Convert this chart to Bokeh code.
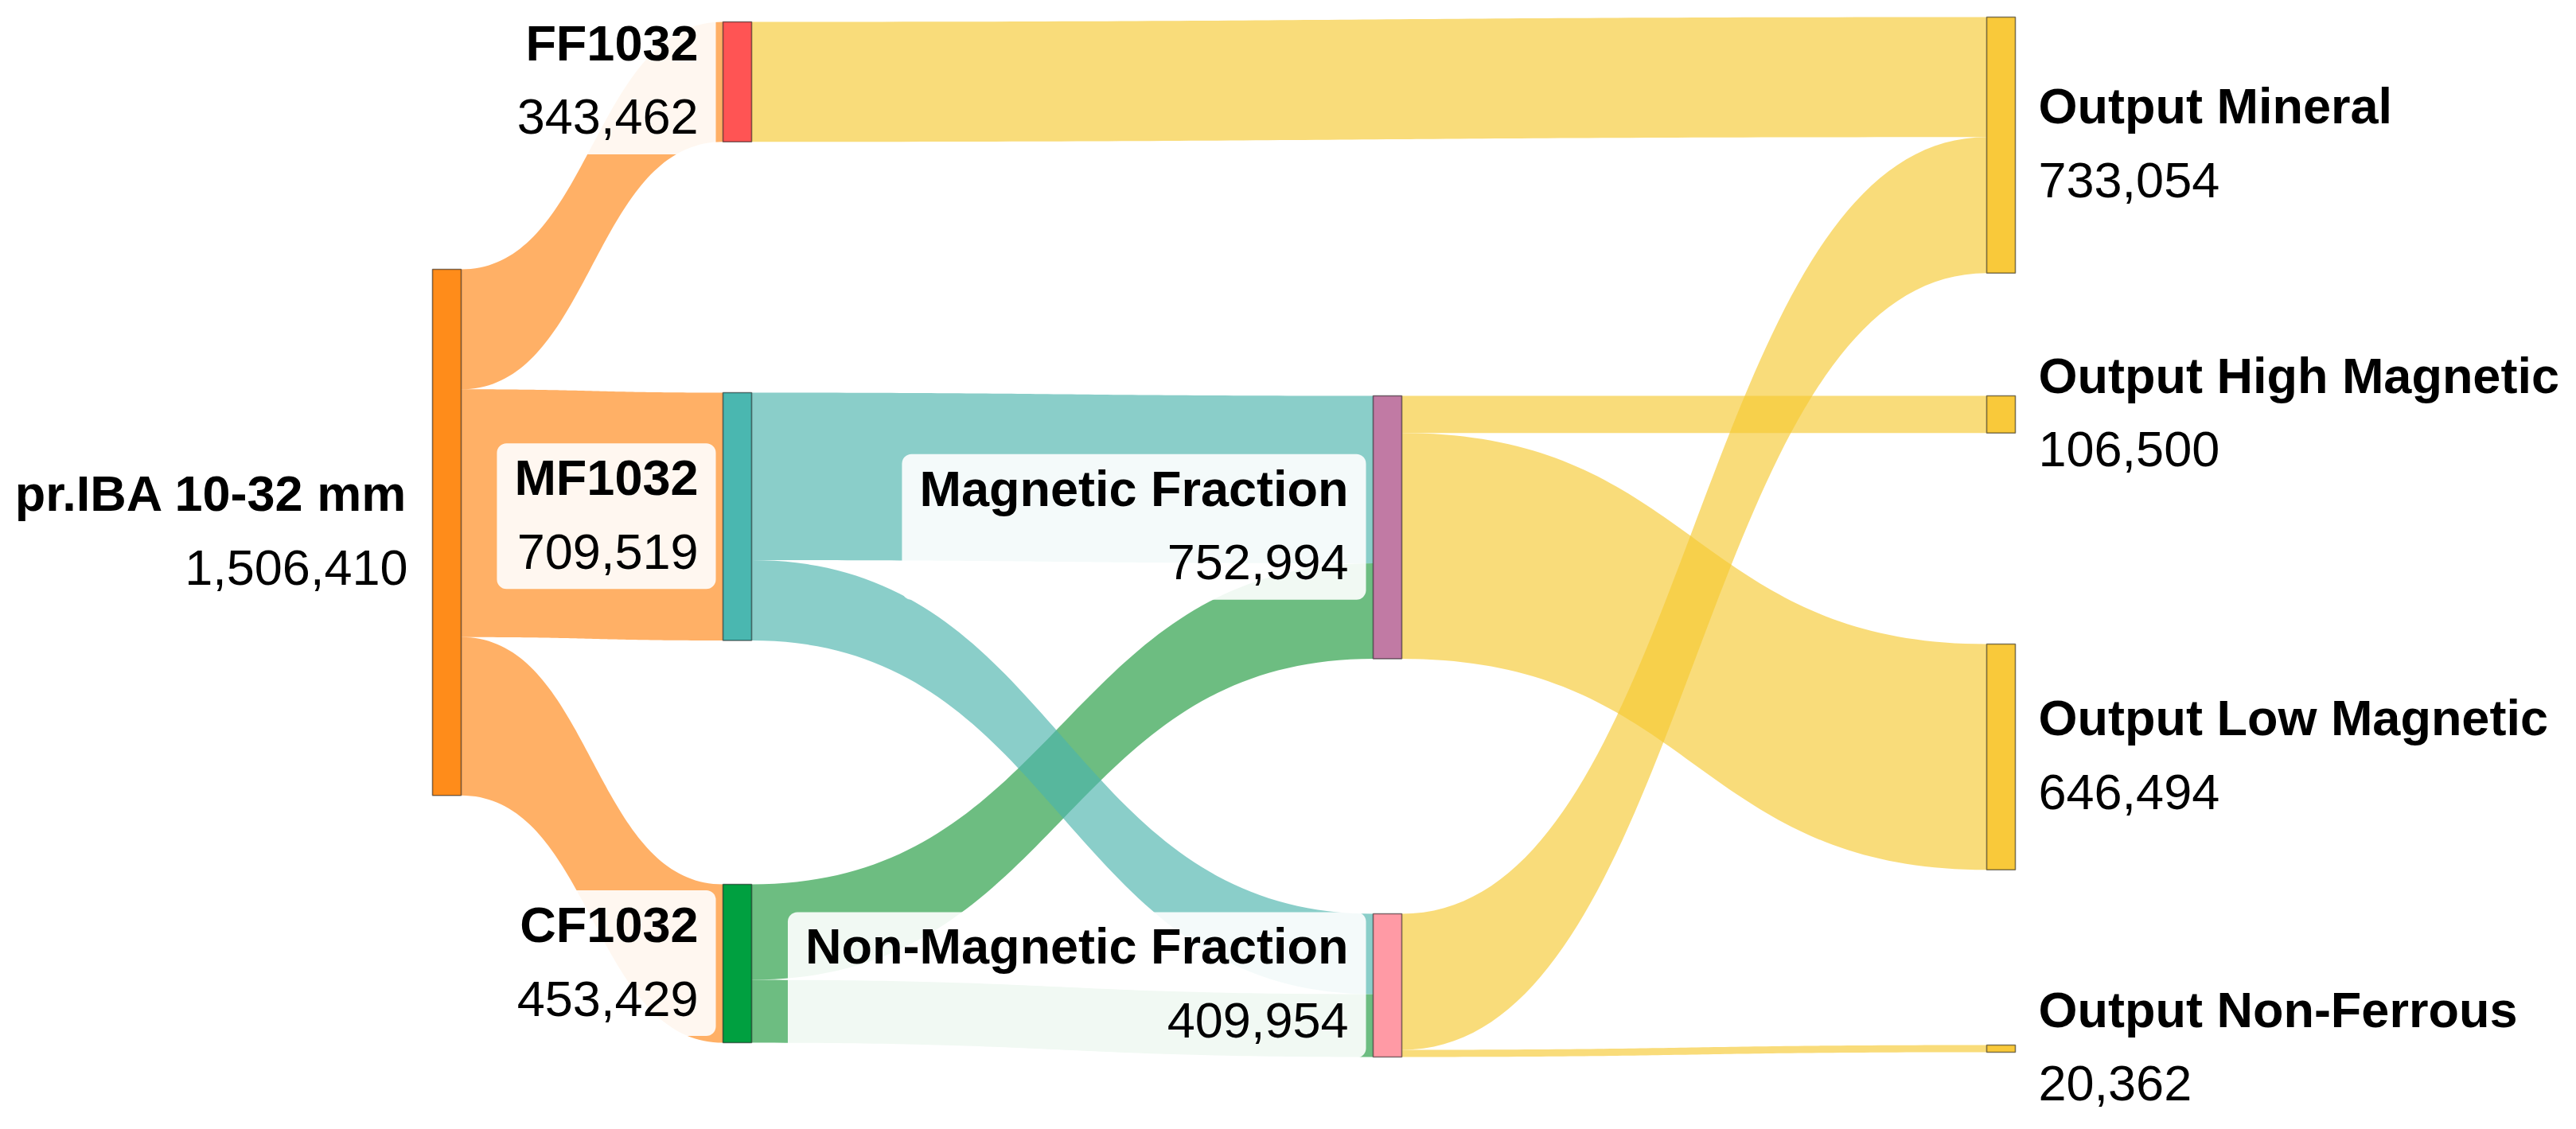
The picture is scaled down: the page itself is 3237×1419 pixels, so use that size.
import numpy as np
from bokeh.plotting import figure
from bokeh.models import Range1d, ColumnDataSource
from bokeh.embed import file_html
from bokeh.resources import INLINE
from bokeh.core.properties import value

# ---------------- data ----------------
node_names = ["pr.IBA 10-32 mm", "FF1032", "MF1032", "CF1032",
              "Magnetic Fraction", "Non-Magnetic Fraction",
              "Output Mineral", "Output High Magnetic",
              "Output Low Magnetic", "Output Non-Ferrous"]
node_values = [1506410, 343462, 709519, 453429,
               752994, 409954,
               733054, 106500, 646494, 20362]

link_sources = ["pr.IBA 10-32 mm", "pr.IBA 10-32 mm", "pr.IBA 10-32 mm",
                "CF1032", "CF1032", "MF1032", "MF1032",
                "FF1032", "Magnetic Fraction", "Magnetic Fraction",
                "Non-Magnetic Fraction", "Non-Magnetic Fraction"]
link_targets = ["FF1032", "MF1032", "CF1032",
                "Magnetic Fraction", "Non-Magnetic Fraction",
                "Magnetic Fraction", "Non-Magnetic Fraction",
                "Output Mineral", "Output High Magnetic", "Output Low Magnetic",
                "Output Mineral", "Output Non-Ferrous"]
link_values = [343462, 709519, 453429,
               273494, 179935, 479500, 230019,
               343462, 106500, 646494,
               389592, 20362]

# ---------------- layout / style ----------------
W, H = 3229, 1411
K = 0.000439                      # screen px per tonne
COL_X = [543, 908, 1725, 2496]    # left edge of each column (px)
NODE_W = 36
node_col = [0, 1, 1, 1, 2, 2, 3, 3, 3, 3]
NODE_TOP_PX = [338, 27, 493, 1111, 497, 1148, 21, 497, 809, 1313]
node_colors = ["#FF8C1A", "#FF5454", "#4AB7B0", "#00A040",
               "#C17AA4", "#FF9AA5",
               "#F9C93A", "#F9C93A", "#F9C93A", "#F9C93A"]
link_color_of_source = {"pr.IBA 10-32 mm": "#FF8614", "MF1032": "#4BB4AC",
                        "CF1032": "#1E993D", "FF1032": "#F6C932",
                        "Magnetic Fraction": "#F6C932",
                        "Non-Magnetic Fraction": "#F6C932"}
FONT = "Liberation Sans"
FS = 63
LABEL_GAP = 31
TEXT_DY = -23                     # renderer baseline correction (px)

BOLD_W = {" ": .278, "-": .333, ".": .278, ",": .278, "A": .722, "B": .722,
          "C": .722, "F": .611, "H": .722, "I": .278, "L": .611, "M": .833,
          "N": .722, "O": .778, "a": .556, "c": .556, "e": .556, "g": .611,
          "h": .611, "i": .278, "l": .278, "m": .889, "n": .611, "o": .611,
          "p": .611, "r": .389, "s": .556, "t": .333, "u": .611, "w": .778}


def text_width(s, bold=True):
    if bold:
        return sum(BOLD_W.get(c, .556) for c in s) * FS
    return sum(.278 if c == "," else .556 for c in s) * FS


idx = {n: i for i, n in enumerate(node_names)}
top_u = [t / K for t in NODE_TOP_PX]

p = figure(width=W, height=H, output_backend="svg", toolbar_location=None,
           x_range=Range1d(0, W), y_range=Range1d(H / K, 0))
p.axis.visible = False
p.grid.visible = False
p.outline_line_color = None
p.min_border = 0
p.min_border_left = p.min_border_right = p.min_border_top = p.min_border_bottom = 0
p.background_fill_color = "white"
p.border_fill_color = "white"

# ---------------- links ----------------
out_off = {n: 0.0 for n in node_names}
in_off = {n: 0.0 for n in node_names}
order = list(range(len(link_values)))
out_order = sorted(order, key=lambda i: (idx[link_sources[i]], top_u[idx[link_targets[i]]]))
in_order = sorted(order, key=lambda i: (idx[link_targets[i]], top_u[idx[link_sources[i]]]))
src_y, tgt_y = {}, {}
for i in out_order:
    s = link_sources[i]
    src_y[i] = top_u[idx[s]] + out_off[s]
    out_off[s] += link_values[i]
for i in in_order:
    t = link_targets[i]
    tgt_y[i] = top_u[idx[t]] + in_off[t]
    in_off[t] += link_values[i]

tt = np.linspace(0, 1, 80)
xs, ys, cols = [], [], []
for i in order:
    s, t = idx[link_sources[i]], idx[link_targets[i]]
    x0 = COL_X[node_col[s]] + NODE_W
    x1 = COL_X[node_col[t]]
    xm0 = x0 + (x1 - x0) * 0.5
    xm1 = x1 - (x1 - x0) * 0.5
    bx = (1 - tt) ** 3 * x0 + 3 * (1 - tt) ** 2 * tt * xm0 + 3 * (1 - tt) * tt ** 2 * xm1 + tt ** 3 * x1
    e = 3 * (1 - tt) * tt ** 2 + tt ** 3
    ytop = src_y[i] * (1 - e) + tgt_y[i] * e
    ybot = ytop + link_values[i]
    xs.append(np.concatenate([bx, bx[::-1]]))
    ys.append(np.concatenate([ytop, ybot[::-1]]))
    cols.append(link_color_of_source[link_sources[i]])

p.patches(xs="xs", ys="ys", fill_color="c", fill_alpha=0.65, line_color=None,
          source=ColumnDataSource(dict(xs=xs, ys=ys, c=cols)))

# ---------------- nodes ----------------
nl = [COL_X[c] for c in node_col]
nsrc = ColumnDataSource(dict(left=nl, right=[x + NODE_W for x in nl],
                             top=top_u, bottom=[t + v for t, v in zip(top_u, node_values)],
                             c=node_colors))
p.quad(left="left", right="right", top="top", bottom="bottom", fill_color="c",
       line_color="black", line_alpha=0.5, line_width=1.6, source=nsrc)

# ---------------- labels ----------------
name_x, name_y, name_al = [], [], []
num_x, num_y, num_txt = [], [], []
bl, br, bt, bb = [], [], [], []
for i, n in enumerate(node_names):
    center = top_u[i] + node_values[i] / 2
    y1 = center - 26 / K
    y2 = center + 67 / K
    if node_col[i] < 3:
        x = nl[i] - LABEL_GAP
        al = "right"
        wmax = max(text_width(n), text_width(f"{node_values[i]:,}", bold=False))
        bl.append(x - wmax - 22)
        br.append(nl[i] - 9)
        bt.append(y1 - 66 / K)
        bb.append(y2 + 24 / K)
    else:
        x = nl[i] + NODE_W + 29
        al = "left"
    name_x.append(x); name_y.append(y1 + TEXT_DY / K); name_al.append(al)
    num_x.append(x); num_y.append(y2 + TEXT_DY / K); num_txt.append(f"{node_values[i]:,}")

p.quad(left=bl, right=br, top=bt, bottom=bb, fill_color="white", fill_alpha=0.9,
       line_color=None, border_radius=12)

p.text(x=name_x, y=name_y, text=node_names, text_align=name_al,
       text_baseline="alphabetic", text_font=value(FONT), text_font_style="bold",
       text_font_size=f"{FS}px", text_color="black")
p.text(x=num_x, y=num_y, text=num_txt, text_align=name_al,
       text_baseline="alphabetic", text_font=value(FONT),
       text_font_size=f"{FS}px", text_color="black")

open("out.html", "w").write(file_html(p, INLINE))
